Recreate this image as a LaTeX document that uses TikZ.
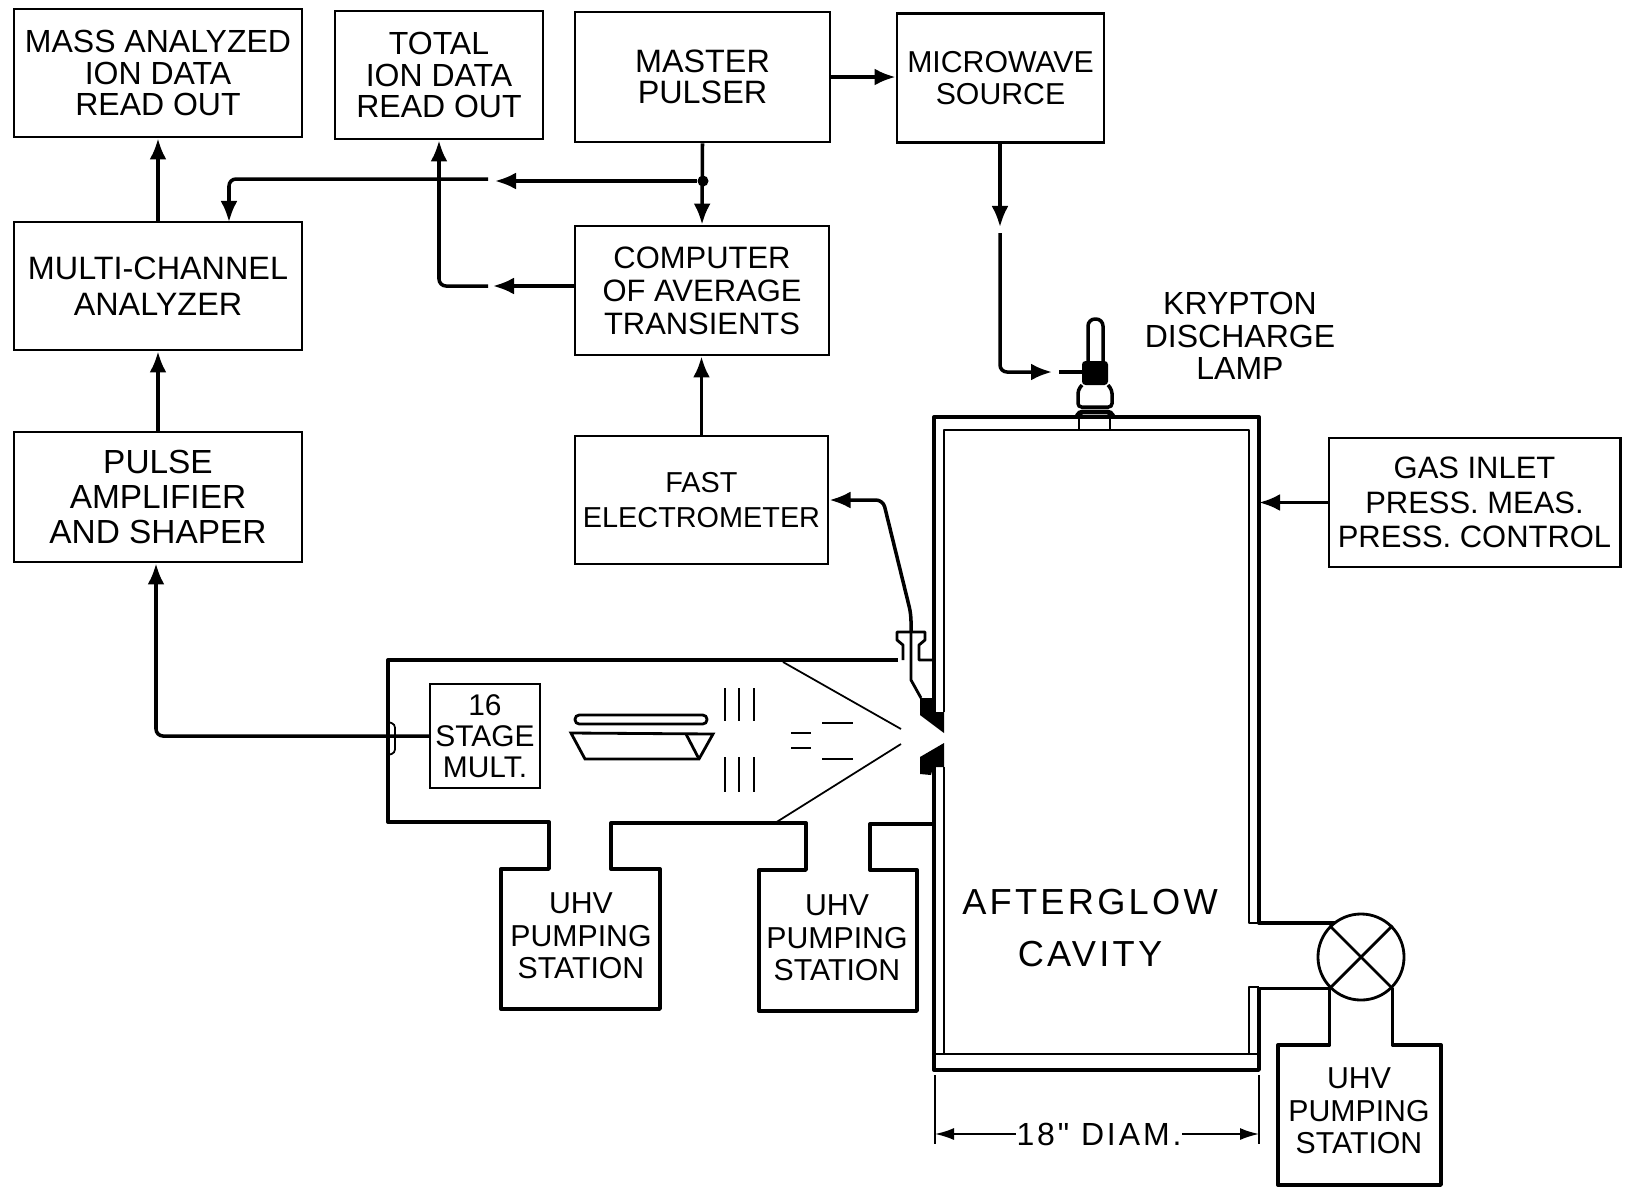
\documentclass[tikz,border=0pt]{standalone}
\usepackage{fontspec}
\setmainfont{Liberation Sans}
\newfontfamily\widefont[LetterSpace=9]{Liberation Sans}
\usepackage{tikz}
\usetikzlibrary{arrows.meta,positioning,calc}

\begin{document}
\begin{tikzpicture}[
    x=0.01cm, y=-0.01cm,
    box/.style={rectangle, draw, thick, inner sep=0pt, align=center, font=\fontsize{#1}{8.9}\selectfont},
    box/.default=9.1,
    lbl/.style={inner sep=0pt, align=center, font=\fontsize{#1}{9.3}\selectfont},
    lbl/.default=8.6,
    flow/.style={line width=1pt, -{Latex[length=2.1mm,width=1.7mm]}},
    wall/.style={line width=0.95pt, line join=round},
    inwall/.style={line width=0.75pt, line join=round},
    fine/.style={line width=0.5pt}
]
    \useasboundingbox (0,0) rectangle (1633,1187);

    % instrument boxes
    \node[box, minimum width=2.88cm, minimum height=1.28cm] (mass) at (158,73) {MASS ANALYZED\\ION DATA\\READ OUT};
    \node[box, minimum width=2.08cm, minimum height=1.28cm] (total) at (439,75) {TOTAL\\ION DATA\\READ OUT};
    \node[box=9.2, minimum width=2.55cm, minimum height=1.30cm] (master) at (702.5,77) {MASTER\\PULSER};
    \node[box=8.6, minimum width=2.07cm, minimum height=1.29cm] (microwave) at (1000.5,78) {MICROWAVE\\SOURCE};
    \node[box=9.2, minimum width=2.88cm, minimum height=1.28cm] (mca) at (158,286) {MULTI-CHANNEL\\[1.2pt]ANALYZER};
    \node[box=8.8, minimum width=2.54cm, minimum height=1.29cm] (cat) at (702,290.5) {COMPUTER\\[0.5pt]OF AVERAGE\\[0.5pt]TRANSIENTS};
    \node[box=9.5, minimum width=2.88cm, minimum height=1.30cm] (pulse) at (158,497) {PULSE\\[1pt]AMPLIFIER\\[1pt]AND SHAPER};
    \node[box=8.2, minimum width=2.53cm, minimum height=1.28cm] (fast) at (701.5,500) {FAST\\[1pt]ELECTROMETER};
    \node[box=8.8, minimum width=2.91cm, minimum height=1.29cm] (gas) at (1474.5,502.5) {GAS INLET\\[1pt]PRESS. MEAS.\\[1pt]PRESS. CONTROL};
    \node[box=8.5, thin, minimum width=1.10cm, minimum height=1.04cm] (mult) at (485,736) {16\\STAGE\\MULT.};

    % free labels
    \node[lbl=9.1] (kr) at (1240,336) {KRYPTON\\DISCHARGE\\LAMP};
    \node[lbl] (uhva) at (581,936) {UHV\\PUMPING\\STATION};
    \node[lbl] (uhvb) at (837,938) {UHV\\PUMPING\\STATION};
    \node[lbl] (uhvc) at (1359,1111) {UHV\\PUMPING\\STATION};
    \node[lbl, font=\fontsize{10.3}{15}\widefont] (cavlabel) at (1090,928) {AFTERGLOW\\CAVITY};
    \node[lbl, font=\fontsize{9.1}{9.3}\widefont] (diam) at (1099,1134) {18" DIAM.};

    \coordinate (tapl) at (495,181);
    \coordinate (tapr) at (488,179);
    \coordinate (mcain) at (229,222);
    \coordinate (catl) at (493,286);
    \coordinate (catr) at (488,286);
    \coordinate (mwa) at (1000,227);
    \coordinate (mwb) at (1000,233);
    \coordinate (lampa) at (1052,372);
    \coordinate (lampb) at (1059,372);
    \coordinate (lampc) at (1082,372);
    \coordinate (feed) at (156,736);
    \coordinate (wiretop) at (911,632);
    \coordinate (dimleft) at (935,1134);
    \coordinate (dimright) at (1259,1134);
    \coordinate (pipeup) at (1335,923);
    \coordinate (uhvtop) at (1361,1045);

    % signal paths
    \draw[flow] (master.east) -- (master.east -| microwave.west);
    \draw[flow] (master.south) -- (cat.north);
    \node[circle, fill, inner sep=0pt, minimum size=0.11cm] (tap) at (703,181) {};
    \draw[flow] (tap) -- (tapl);
    \draw[flow, rounded corners=2pt] (tapr) -| (mcain);
    \draw[flow] (cat.west |- catl) -- (catl);
    \draw[flow, rounded corners=2pt] (catr) -| (total.south);
    \draw[flow] (mca.north -| mass.south) -- (mass.south);
    \draw[flow] (pulse.north) -- (mca.south);
    \draw[flow] (fast.north) -- (fast.north |- cat.south);
    \draw[flow, rounded corners=2pt] (mult.west) -- (feed) -- (feed |- pulse.south);
    \draw[flow] (gas.west) -- (gas.west -| dimright);
    \draw[flow] (microwave.south -| mwa) -- (mwa);
    \draw[flow, rounded corners=2pt] (mwb) |- (lampa);
    \draw[line width=1pt] (lampb) -- (lampc);
    \draw[flow, rounded corners=2pt] (wiretop) -- (911,614) -- (883,500) -- (fast.east);

    % vacuum envelope and pumping stations
    \draw[wall] (898,660) -- (388,660) -- (388,822) -- (549,822) -- (549,869) -- (501,869) -- (501,1009)
        -- (660,1009) -- (660,869) -- (611,869) -- (611,823) -- (806,823) -- (806,870) -- (759,870)
        -- (759,1011) -- (917,1011) -- (917,870) -- (870,870) -- (870,824) -- (934,824);
    \draw[fine] (783,662) -- (901,729);
    \draw[fine] (901,744) -- (775,823);
    \draw[fine, rounded corners=1pt] (388,722) -- (395,724) -- (395,753) -- (388,755);

    % cavity
    \node[circle, draw, thick, inner sep=0pt, minimum size=0.86cm] (valve) at (1361,957) {};
    \draw[thick] (valve.north west) -- (valve.south east);
    \draw[thick] (valve.north east) -- (valve.south west);
    \draw[wall] (934,712) -- (934,417) -- (1259,417) -- (1259,923) -- (pipeup);
    \draw[wall] (valve.south west) -- (valve.south west -| dimright) -- (1259,1070) -- (934,1070) -- (934,767);
    \draw[inwall] (944,712) -- (944,430) -- (1249,430) -- (1249,923) -- (1259,923);
    \draw[inwall] (944,767) -- (944,1054);
    \draw[inwall] (934,1054) -- (1259,1054);
    \draw[inwall] (1259,987) -- (1249,987) -- (1249,1054);
    \draw[wall] (valve.south west) -- (valve.south west |- uhvtop) -- (1278,1045) -- (1278,1185) -- (1441,1185) -- (1441,1045)
        -- (valve.south east |- uhvtop) -- (valve.south east);

    % aperture and flange
    \fill (920,698) -- (934,698) -- (934,712) -- (944,712) -- (944,733) -- (920,715) -- cycle;
    \fill (944,743) -- (920,757) -- (920,774) -- (931,775) -- (933,767) -- (944,767) -- cycle;
    \draw[thick, line join=round] (903,660) -- (903,645) -- (897,640) -- (897,632) -- (925,632) -- (925,640) -- (919,645) -- (919,660) -- (934,660);
    \draw[thick] (wiretop) -- (911,680) -- (921,698);

    % analyzer parts
    \draw[thick, rounded corners=1.2pt] (575,715) rectangle (707,724);
    \draw[thick] (571,733) -- (713,734) -- (699,759) -- (585,759) -- cycle;
    \draw[thick] (686,734) -- (699,759);
    \foreach \px in {725,739,754} {
        \draw[thick] (\px,688) -- (\px,721);
        \draw[thick] (\px,757) -- (\px,792);
    }
    \draw[thick] (822,723) -- (853,723);
    \draw[thick] (822,759) -- (853,759);
    \draw[thick] (791,733) -- (811,733);
    \draw[thick] (791,748) -- (811,748);

    % lamp
    \draw[line width=1pt, rounded corners=2pt] (1088,361) -- (1088,319) -- (1103,319) -- (1103,361);
    \fill[rounded corners=1pt] (1082,361) rectangle (1108,385);
    \draw[line width=1pt, rounded corners=1pt] (1082,385) -- (1078,390) -- (1078,407) -- (1112,407) -- (1112,390) -- (1108,385);
    \draw[line width=1.4pt, rounded corners=1pt] (1077,417) -- (1079,412) -- (1111,412) -- (1113,417);
    \draw[thick] (1079,412) -- (1079,431);
    \draw[thick] (1110,412) -- (1110,431);

    % dimension
    \draw[fine] (dimleft) ++(0,-59) -- ++(0,69);
    \draw[fine] (dimright) ++(0,-59) -- ++(0,69);
    \draw[fine, -{Latex[length=1.9mm,width=1.2mm]}] (diam.west) -- (dimleft);
    \draw[fine, -{Latex[length=1.9mm,width=1.2mm]}] (diam.east) -- (dimright);
\end{tikzpicture}
\end{document}
